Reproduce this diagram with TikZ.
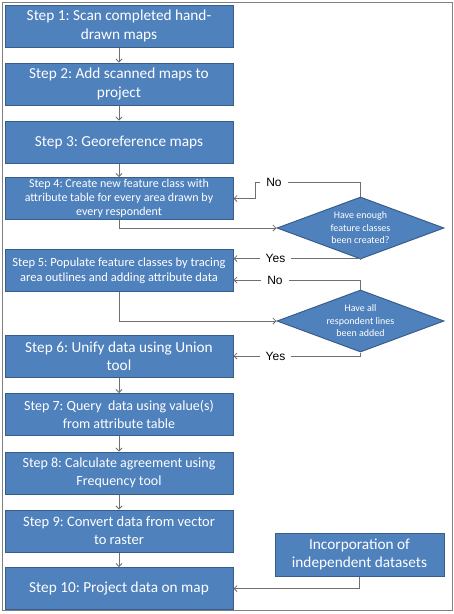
\documentclass[tikz,border=0pt]{standalone}
\usepackage{fontspec}
\setmainfont{Carlito}
\newfontfamily\labelfont{Liberation Sans}
\usetikzlibrary{arrows.meta,shapes.geometric}
\definecolor{stepblue}{HTML}{4F81BD}
\definecolor{stepedge}{HTML}{385D8A}
\definecolor{linegray}{HTML}{6F6F6F}
\frenchspacing

\begin{document}
\begin{tikzpicture}[x=1pt,y=-1pt,>={Straight Barb[length=3pt,width=6pt]},
  stepbox/.style={draw=stepedge,line width=1pt,fill=stepblue,text=white,
    minimum width=228pt,minimum height=42pt,inner sep=2pt,
    align=center,font=\fontsize{15.3}{18.3}\selectfont},
  query/.style={diamond,draw=stepedge,line width=1pt,fill=stepblue,text=white,
    minimum width=167pt,minimum height=62pt,aspect=2.7,inner sep=0pt,
    align=center,font=\fontsize{10}{12.5}\selectfont},
  flow/.style={->,draw=linegray,line width=0.8pt},
  answer/.style={fill=white,inner xsep=6pt,inner ysep=1pt,
    font=\labelfont\fontsize{12}{14}\selectfont}]
\useasboundingbox (0,0) rectangle (454,614);
\draw[gray,line width=1pt] (2,2) rectangle (452,610);

% steps down the left side
\node[stepbox] (s1) at (119,26) {Step 1: Scan completed hand-\\drawn maps};
\node[stepbox] (s2) at (119,84) {Step 2: Add scanned maps to\\project};
\node[stepbox] (s3) at (119,142) {Step 3: Georeference maps};
\node[stepbox,font=\fontsize{12}{13.8}\selectfont] (s4) at (119,198.5)
  {Step 4: Create new feature class with\\attribute table for every area drawn by\\every respondent};
\node[stepbox,font=\fontsize{12.5}{15.5}\selectfont] (s5) at (119,270.5)
  {Step 5: Populate feature classes by tracing\\area outlines and adding attribute data};
\node[stepbox] (s6) at (119,356) {Step 6: Unify data using Union\\tool};
\node[stepbox,font=\fontsize{14}{17.5}\selectfont] (s7) at (119,414.5) {Step 7: Query~ data using value(s)\\from attribute table};
\node[stepbox,font=\fontsize{14}{17.5}\selectfont] (s8) at (119,473) {Step 8: Calculate agreement using\\Frequency tool};
\node[stepbox,font=\fontsize{14.5}{18}\selectfont] (s9) at (119,531) {Step 9: Convert data from vector\\to raster};
\node[stepbox] (s10) at (119,588.5) {Step 10: Project data on map};

% checks and extra data on the right
\node[query] (d1) at (360.5,228) {Have enough\\feature classes\\been created?};
\node[query] (d2) at (360.5,321) {Have all\\respondent lines\\been added};
\node[stepbox,minimum width=169pt,minimum height=43pt] (inc) at (359.5,554.5)
  {Incorporation of\\independent datasets};

\foreach \a/\b in {s1/s2,s2/s3,s3/s4,s6/s7,s7/s8,s8/s9,s9/s10}
  \draw[flow] (\a.south) -- (\b.north);
\draw[flow] (s4.south) |- (d1.west);
\draw[flow] (d1.north) |- (255,182) |- (s4.east);
\draw[flow] (d1.south) |- ([yshift=12pt]s5.east);
\draw[flow] (d2.north) |- ([yshift=-9.5pt]s5.east);
\draw[flow] (s5.south) |- (d2.west);
\draw[flow] (d2.south) |- (s6.east);
\draw[flow] (inc.south) |- (s10.east);

\node[answer] (no1) at (274,182) {No};
\node[answer] (yes1) at (275.5,258.5) {Yes};
\node[answer] (no2) at (275,280) {No};
\node[answer] (yes2) at (275.5,356) {Yes};
\end{tikzpicture}
\end{document}
